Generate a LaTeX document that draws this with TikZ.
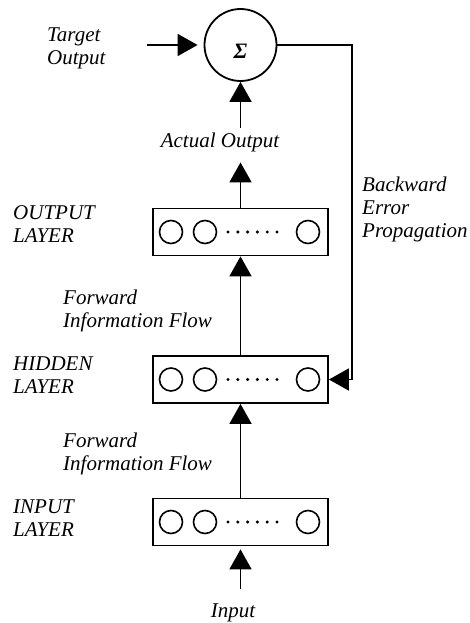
\documentclass[tikz,border=0pt]{standalone}
\usepackage{fontspec}
\setmainfont{Liberation Serif}
\usetikzlibrary{arrows.meta, positioning, calc}

\begin{document}
\begin{tikzpicture}[
    x=1pt, y=-1pt,
    layerbox/.style={draw, line width=1.8pt, minimum width=175pt, minimum height=47pt, inner sep=0pt},
    unit/.style={draw, circle, line width=1.6pt, minimum size=23pt, inner sep=0pt},
    dot/.style={fill, circle, minimum size=3.4pt, inner sep=0pt},
    sumnode/.style={draw, circle, line width=1.8pt, minimum size=72pt, inner sep=0pt, font=\bfseries\itshape\fontsize{22}{22}\selectfont, text height=27pt, text depth=0pt},
    arrow/.style={-{Triangle[length=20pt, width=22pt]}, line width=1.8pt},
    caption/.style={font=\itshape\fontsize{21}{23}\selectfont, align=left, inner sep=0pt, anchor=north west}
]
    \useasboundingbox (0,0) rectangle (470,623);

    % Main entities
    \node[sumnode] (sum) at (240.5,45) {Σ};
    \node[layerbox] (output) at (240.5,232) {};
    \node[layerbox] (hidden) at (240.5,379.5) {};
    \node[layerbox] (input) at (240.5,522) {};

    % Units of each layer
    \foreach \layer in {output, hidden, input} {
        \node[unit] (\layer-u1) at ($(\layer.center)+(-69.5,0)$) {};
        \node[unit] (\layer-u2) at ($(\layer.center)+(-35.5,0)$) {};
        \node[unit] (\layer-un) at ($(\layer.center)+(67.5,0)$) {};
        \foreach \i in {0,...,5}
            \node[dot] (\layer-d\i) at ($(\layer.center)+(-12.5+9.8*\i,0)$) {};
    }

    % Labels
    \node[caption] (target) at (47,28) {Target\\Output};
    \node[caption, anchor=north] (actual) at (220,133) {Actual Output};
    \node[caption] (backward) at (362,177) {Backward\\Error\\Propagation};
    \node[caption] (outlabel) at (13,205) {OUTPUT\\LAYER};
    \node[caption] (flowtop) at (63,290) {Forward\\Information Flow};
    \node[caption] (hidlabel) at (13,357) {HIDDEN\\LAYER};
    \node[caption] (flowlow) at (63,433) {Forward\\Information Flow};
    \node[caption] (inlabel) at (13,500) {INPUT\\LAYER};
    \node[caption, anchor=north] (inp) at (233,604) {Input};

    % Connections
    \coordinate (tgtin) at (147,45);
    \coordinate (bend) at (352,45);
    \coordinate (src) at (240.5,589);

    \draw[arrow, shorten >=6pt] (tgtin) -- (sum.west);
    \draw[arrow, shorten <=5pt] (sum.south |- actual.north) -- (sum.south);
    \draw[arrow, shorten >=10pt] (output.north) -- (output.north |- actual.south);
    \draw[arrow] (hidden.north) -- (output.south);
    \draw[arrow] (input.north) -- (hidden.south);
    \draw[arrow, shorten >=3pt] (src) -- (input.south);
    \draw[arrow] (sum.east) -- (bend) |- (hidden.east);
\end{tikzpicture}
\end{document}
